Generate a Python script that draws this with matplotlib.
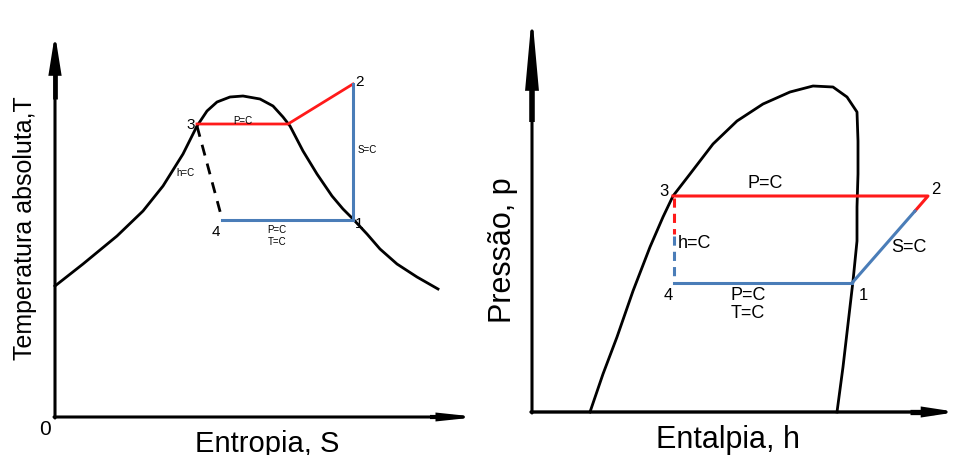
import matplotlib.pyplot as plt

plt.rcParams['font.family'] = ['Liberation Sans', 'DejaVu Sans']

RED = "#ff1a1a"
BLUE = "#4a7db8"

# ---- T-s diagram (left), origin of axes at (0, 0) ----
ts_dome_s = [0, 28, 62, 88, 108, 128, 142, 152, 162, 175, 188, 205, 218, 228, 235,
             248, 262, 277, 288, 298, 312, 325, 342, 362, 383]
ts_dome_T = [131, 153, 181, 206, 231, 263, 291, 306, 315, 320, 321, 318, 311, 300, 291,
             266, 243, 221, 208, 198, 183, 168, 153, 140, 128]

ts_pts = {"1": (298, 197), "2": (298, 333), "3": (142, 293), "4": (167, 197)}
ts_sat_vapor = (233, 293)  # where the red P=C line meets the dome

# ---- p-h diagram (right) ----
ph_dome_h = [58, 71, 85, 101, 118, 131, 141, 158, 181, 205, 231, 258, 281, 301, 315,
             325, 326, 326, 325, 325, 321, 316, 311, 305]
ph_dome_p = [0, 38, 75, 121, 165, 195, 216, 238, 268, 291, 308, 320, 326, 325, 315,
             300, 271, 238, 205, 171, 131, 88, 45, 0]

ph_pts = {"1": (320, 129), "2": (396, 216), "3": (141, 216), "4": (142, 129)}
ph_red_end = (383, 201)   # colour change on the S=C line
ph_dash_mid = 178         # colour change on the h=C line


def arrow(ax, start, end, head_len, head_w, lw):
    ax.annotate("", xy=end, xytext=start,
                arrowprops=dict(arrowstyle=f"-|>,head_length={head_len},head_width={head_w}",
                                lw=lw, color="black", shrinkA=0, shrinkB=0,
                                mutation_scale=10, joinstyle="miter"))


fig = plt.figure(figsize=(9.57, 4.56), dpi=100)

# left panel
ax1 = fig.add_axes([0, 0, 0.5, 1])
ax1.set_xlim(-55, 423.5)
ax1.set_ylim(-38, 418)
ax1.axis("off")
arrow(ax1, (0, -1), (0, 383), 2.2, 0.35, 2.2)
ax1.plot([0, 0], [318, 352], color="black", lw=3.4, solid_capstyle="butt")
arrow(ax1, (-1, 0), (423, 0), 1.9, 0.2, 2.2)
ax1.plot([375, 398], [0, 0], color="black", lw=3.0, solid_capstyle="butt")

ax1.plot(ts_dome_s, ts_dome_T, color="black", lw=2, solid_joinstyle="round")
p1, p2, p3, p4 = ts_pts["1"], ts_pts["2"], ts_pts["3"], ts_pts["4"]
ax1.plot([p3[0], ts_sat_vapor[0], p2[0]], [p3[1], ts_sat_vapor[1], p2[1]], color=RED, lw=2)
ax1.plot([p2[0], p1[0]], [p2[1], p1[1]], color=BLUE, lw=2.2)
ax1.plot([p4[0], p1[0]], [p4[1], p1[1]], color=BLUE, lw=2.2)
ax1.plot([p3[0], p4[0] - 1], [p3[1] - 2, p4[1] + 5], color="black", lw=2, ls=(0, (4, 3)))

ax1.text(p3[0] - 2, p3[1], "3", fontsize=11, ha="right", va="center")
ax1.text(p2[0] + 2, p2[1] + 3, "2", fontsize=11, ha="left", va="center")
ax1.text(p1[0] + 2, p1[1] - 3, "1", fontsize=11, ha="left", va="center")
ax1.text(p4[0] - 6, p4[1] - 11, "4", fontsize=11, ha="center", va="center")
ax1.text(188, 297, "P=C", fontsize=7, ha="center", va="center")
ax1.text(303, 268, "S=C", fontsize=7, ha="left", va="center")
ax1.text(130, 245, "h=C", fontsize=7, ha="center", va="center")
ax1.text(222, 188, "P=C", fontsize=7, ha="center", va="center")
ax1.text(222, 176, "T=C", fontsize=7, ha="center", va="center")
ax1.text(-10, -12, "0", fontsize=15, ha="center", va="center")
ax1.text(212, -26, "Entropia, S", fontsize=21, ha="center", va="center")
ax1.text(-30, 190, "Temperatura absoluta,T", fontsize=18, rotation=90, ha="center", va="center")

# right panel
ax2 = fig.add_axes([0.5, 0, 0.5, 1])
ax2.set_xlim(-53.5, 425)
ax2.set_ylim(-43, 413)
ax2.axis("off")
arrow(ax2, (0, -1), (0, 398), 4.2, 0.38, 2.2)
ax2.plot([0, 0], [290, 340], color="black", lw=4.0, solid_capstyle="butt")
arrow(ax2, (-1, 0), (425, 0), 1.7, 0.26, 2.4)
ax2.plot([378, 402], [0, 0], color="black", lw=3.8, solid_capstyle="butt")

ax2.plot(ph_dome_h, ph_dome_p, color="black", lw=2, solid_joinstyle="round")
q1, q2, q3, q4 = ph_pts["1"], ph_pts["2"], ph_pts["3"], ph_pts["4"]
ax2.plot([q3[0], q2[0], ph_red_end[0]], [q3[1], q2[1], ph_red_end[1]], color=RED, lw=2.2)
ax2.plot([ph_red_end[0], q1[0]], [ph_red_end[1], q1[1]], color=BLUE, lw=2.2)
ax2.plot([q4[0], q1[0]], [q4[1], q1[1]], color=BLUE, lw=2.2)
ax2.plot([q4[0], q4[0]], [q3[1] - 2, ph_dash_mid], color=RED, lw=2.2, ls=(0, (3, 2)))
ax2.plot([q4[0], q4[0]], [ph_dash_mid - 2, q4[1] + 2], color=BLUE, lw=2.2, ls=(0, (3, 2)))

ax2.text(q3[0] - 4, q3[1] + 6, "3", fontsize=12, ha="right", va="center")
ax2.text(q2[0] + 3, q2[1] + 8, "2", fontsize=12, ha="left", va="center")
ax2.text(q1[0] + 7, q1[1] - 12, "1", fontsize=12, ha="left", va="center")
ax2.text(q4[0] - 6, q4[1] - 12, "4", fontsize=12, ha="center", va="center")
ax2.text(233, 230, "P=C", fontsize=13, ha="center", va="center")
ax2.text(359, 165, "S=C", fontsize=13, ha="left", va="center")
ax2.text(146, 170, "h=C", fontsize=13, ha="left", va="center")
ax2.text(216, 118, "P=C", fontsize=13, ha="center", va="center")
ax2.text(216, 99, "T=C", fontsize=13, ha="center", va="center")
ax2.text(196, -27, "Entalpia, h", fontsize=22, ha="center", va="center")
ax2.text(-29, 163, "Pressão, p", fontsize=22, rotation=90, ha="center", va="center")

fig.savefig("out.png", dpi=100)
